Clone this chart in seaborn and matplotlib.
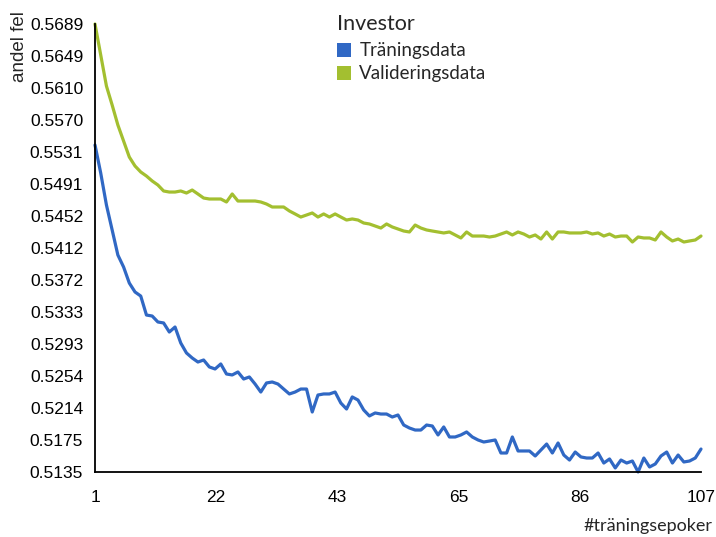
import numpy as np
import pandas as pd
import matplotlib
matplotlib.use("Agg")
import matplotlib.pyplot as plt
import seaborn as sns
from matplotlib.patches import Patch

# values (107 epochs)
epoker = list(range(1, 108))

traning = [
    0.55394, 0.55047, 0.54652, 0.54343, 0.54033, 0.53885, 0.53687, 0.53576, 0.53526, 0.53291,
    0.53279, 0.53205, 0.53193, 0.53081, 0.53143, 0.52945, 0.52822, 0.52760, 0.52710, 0.52735,
    0.52649, 0.52624, 0.52686, 0.52562, 0.52550, 0.52587, 0.52500, 0.52525, 0.52438, 0.52339,
    0.52451, 0.52463, 0.52438, 0.52376, 0.52315, 0.52339, 0.52376, 0.52376, 0.52092, 0.52302,
    0.52315, 0.52315, 0.52339, 0.52203, 0.52129, 0.52278, 0.52240, 0.52117, 0.52043, 0.52080,
    0.52067, 0.52067, 0.52030, 0.52055, 0.51931, 0.51894, 0.51869, 0.51869, 0.51931, 0.51919,
    0.51808, 0.51907, 0.51783, 0.51783, 0.51808, 0.51845, 0.51783, 0.51746, 0.51721, 0.51733,
    0.51746, 0.51585, 0.51585, 0.51783, 0.51610, 0.51610, 0.51610, 0.51548, 0.51622, 0.51696,
    0.51585, 0.51709, 0.51560, 0.51498, 0.51597, 0.51536, 0.51523, 0.51523, 0.51585, 0.51461,
    0.51511, 0.51400, 0.51498, 0.51461, 0.51486, 0.51350, 0.51523, 0.51412, 0.51449, 0.51548,
    0.51597, 0.51461, 0.51560, 0.51474, 0.51486, 0.51523, 0.51634,
]

validering = [
    0.56890, 0.56507, 0.56123, 0.55888, 0.55641, 0.55443, 0.55245, 0.55134, 0.55060, 0.55010,
    0.54949, 0.54899, 0.54825, 0.54812, 0.54812, 0.54825, 0.54800, 0.54837, 0.54788, 0.54738,
    0.54726, 0.54726, 0.54726, 0.54689, 0.54788, 0.54701, 0.54701, 0.54701, 0.54701, 0.54689,
    0.54664, 0.54627, 0.54627, 0.54627, 0.54578, 0.54541, 0.54503, 0.54528, 0.54553, 0.54503,
    0.54541, 0.54503, 0.54541, 0.54503, 0.54466, 0.54479, 0.54466, 0.54429, 0.54417, 0.54392,
    0.54367, 0.54417, 0.54380, 0.54355, 0.54330, 0.54318, 0.54404, 0.54367, 0.54343, 0.54330,
    0.54318, 0.54306, 0.54318, 0.54281, 0.54244, 0.54318, 0.54268, 0.54268, 0.54268, 0.54256,
    0.54268, 0.54293, 0.54318, 0.54281, 0.54318, 0.54293, 0.54256, 0.54281, 0.54231, 0.54318,
    0.54231, 0.54318, 0.54318, 0.54306, 0.54306, 0.54306, 0.54318, 0.54293, 0.54306, 0.54268,
    0.54293, 0.54256, 0.54268, 0.54268, 0.54194, 0.54256, 0.54244, 0.54244, 0.54219, 0.54318,
    0.54256, 0.54207, 0.54231, 0.54194, 0.54207, 0.54219, 0.54268,
]

serier = ["Träningsdata", "Valideringsdata"]
farger = ["#3068c4", "#a3bf30"]

df = pd.DataFrame({
    "epok": epoker + epoker,
    "andel": traning + validering,
    "serie": [serier[0]] * len(epoker) + [serier[1]] * len(epoker),
})

sns.set_style("white")
plt.rcParams["font.family"] = ["Liberation Sans", "DejaVu Sans"]

fig = plt.figure(figsize=(7.16, 5.37), dpi=100)
ax = fig.add_axes([95 / 716, 1 - 472 / 537, 606 / 716, 448 / 537])

sns.lineplot(data=df, x="epok", y="andel", hue="serie", palette=farger,
             linewidth=2.3, legend=False, ax=ax)
for line in ax.lines:
    line.set_clip_on(False)

# axis limits follow the data range, ticks evenly spaced between them
ymin, ymax = df["andel"].min(), df["andel"].max()
ax.set_xlim(1, 107)
ax.set_ylim(ymin, ymax)
yt = np.linspace(ymin, ymax, 15)
ax.set_yticks(yt)
ax.set_yticklabels([f"{v:.4f}" for v in yt])
xt = np.linspace(1, 107, 6)
ax.set_xticks(xt)
ax.set_xticklabels([f"{int(round(v))}" for v in xt])

ax.set_xlabel("")
ax.set_ylabel("")
sns.despine(ax=ax)
for s in ["left", "bottom"]:
    ax.spines[s].set_color("black")
    ax.spines[s].set_linewidth(1.3)
ax.tick_params(axis="both", direction="out", width=1.3, color="black",
               labelsize=12.5, labelcolor="black")
ax.tick_params(axis="x", length=6, pad=7)
ax.tick_params(axis="y", length=6.5, pad=2)

fig.text(19 / 716, 1 - 11 / 537, "andel fel", rotation=90, ha="center", va="top",
         fontsize=13.5)
fig.text(713 / 716, 1 - 526 / 537, "#träningsepoker", ha="right", va="center",
         fontsize=13, family=["Lato", "DejaVu Sans"])

handles = [Patch(facecolor=c, edgecolor="none", label=s) for s, c in zip(serier, farger)]
leg = fig.legend(handles=handles, title="Investor", loc="upper left",
                 bbox_to_anchor=(320 / 716, 1 + 3 / 537), frameon=False,
                 handlelength=0.75, handleheight=0.75, handletextpad=0.45,
                 labelspacing=0.33, alignment="left",
                 prop={"family": ["Lato", "DejaVu Sans"], "size": 13.5})
leg.get_title().set_fontsize(15.5)
leg.get_title().set_family(["Lato", "DejaVu Sans"])
leg._legend_box.sep = 6

fig.savefig("out.png", dpi=100)
